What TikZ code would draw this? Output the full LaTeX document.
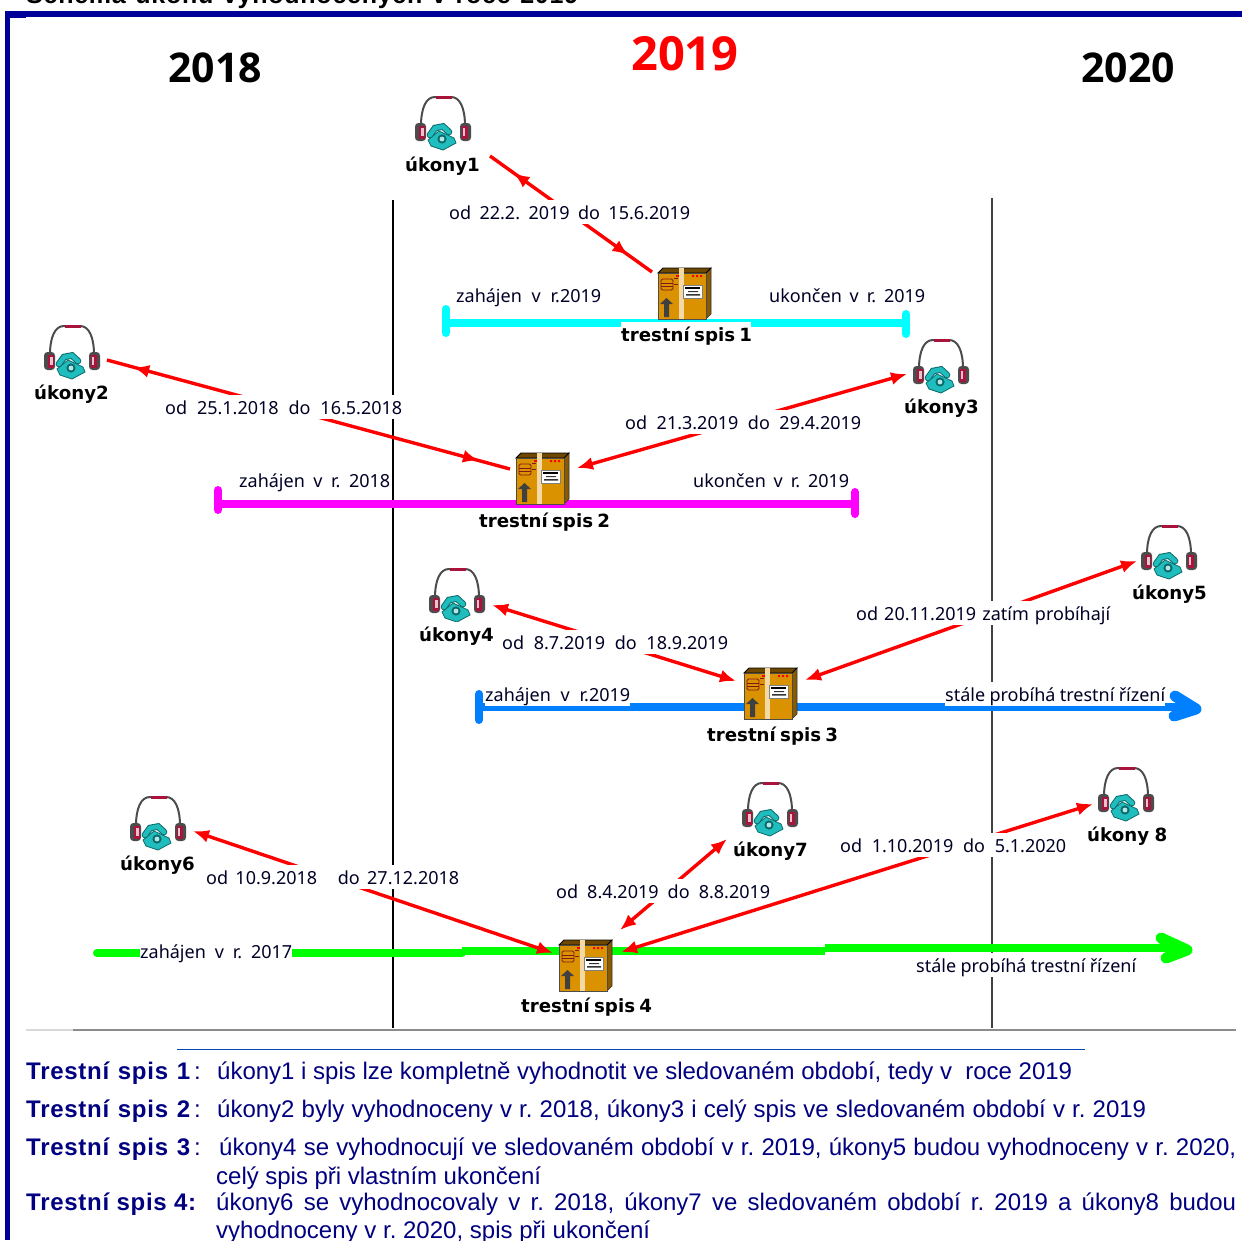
\documentclass[tikz,border=0pt]{standalone}
\usepackage{fontspec}
\usetikzlibrary{arrows.meta,decorations.markings}
\setmainfont{Noto Sans}
\newfontfamily\ikonfont{DejaVu Sans}
\newfontfamily\yearfont{Open Sans}
\newfontfamily\arialfont{Liberation Sans}
\newfontfamily\arialspaced{Liberation Sans}[LetterSpace=3]
\definecolor{navy}{HTML}{000099}
\definecolor{textnavy}{HTML}{000080}
\definecolor{teal1}{HTML}{1FBDBD}
\definecolor{teal2}{HTML}{0E6A6A}
\definecolor{crim}{HTML}{A8143C}
\definecolor{boxf}{HTML}{DB9200}
\definecolor{boxs}{HTML}{8A5A00}
\definecolor{tlblue}{HTML}{0080FF}
\definecolor{tlcyan}{HTML}{00FFFF}
\definecolor{tlmag}{HTML}{FF00FF}
\definecolor{tlgreen}{HTML}{00FF00}
\definecolor{tlred}{HTML}{FF0000}
\tikzset{
 x=1pt,y=-1pt,
 headset/.pic={
  \draw[black!70,line width=2] (-22,4) .. controls (-22,-14) and (-17,-25) .. (-8,-25) -- (8,-25) .. controls (17,-25) and (22,-14) .. (22,4);
  \draw[crim,line width=3] (-7,-25)--(9,-25);
  \fill[black!70,rounded corners=3.5] (-28,1) rectangle (-17,19);
  \fill[black!70,rounded corners=3.5] (17,1) rectangle (28,19);
  \fill[crim] (-24.5,3.5) rectangle (-18.5,16.5);
  \fill[crim] (18.5,3.5) rectangle (24.5,16.5);
  \fill[white!75!crim] (-22,6) rectangle (-19.5,14);
  \fill[white!75!crim] (19.5,6) rectangle (22,14);
  \fill[teal1,draw=teal2,line width=.8] (-15,18) -- (-4,9) -- (11,16) -- (13,21) -- (0,28) -- (-12,24) -- cycle;
  \draw[teal2,line width=6.6,line cap=round] (-13,13) -- (-8,6) -- (0,4.5) -- (6,10);
  \draw[teal1,line width=4.6,line cap=round] (-13,13) -- (-8,6) -- (0,4.5) -- (6,10);
  \fill[teal2] (-1,17) circle (4.6);
  \fill[white!65!teal1] (-1,17) circle (2.4);
 },
 boxicon/.pic={
  \fill[boxs,draw=black!80,line width=.6] (22,-23) -- (27,-28) -- (27,18) -- (22,23) -- cycle;
  \fill[boxs!80!black,draw=black,line width=.8] (-26,-23) -- (-21,-28) -- (27,-28) -- (22,-23) -- cycle;
  \fill[boxf,draw=black!70,line width=.7] (-26,-23) rectangle (22,23);
  \fill[white!65!boxf] (-5,-24) rectangle (0,23);
  \fill[white!65!boxf] (-5,-28) rectangle (0,-23);
  \draw[red!45!black!90,line width=.9,rounded corners=1.5] (-23,-17) rectangle (-11,-6);
  \draw[red!45!black!90,line width=.9] (-23,-13) -- (-11,-13) (-23,-9.5) -- (-11,-9.5);
  \draw[red!45!black!90,line width=.9] (-10,-18) -- (-6,-18) (-10,-12) -- (-6,-12);
  \fill[red] (-8,-21) rectangle (-5,-19);
  \fill[red] (8,-21) rectangle (10,-19) (12,-21) rectangle (14,-19) (16,-21) rectangle (18,-19);
  \fill[white,draw=black!50,line width=.4] (-1,-11) rectangle (18,2);
  \fill[black] (1,-9) rectangle (16,-7);
  \fill[black!80] (4,-5) rectangle (14,-4) (2,-2) rectangle (16,-.5);
  \fill[black!75] (-20,21) -- (-20,8) -- (-24,8) -- (-17.5,2) -- (-11,8) -- (-15,8) -- (-15,21) -- cycle;
 },
 iconnode/.style={minimum width=54pt,minimum height=52pt,inner sep=0pt},
 boxnode/.style={minimum width=54pt,minimum height=52pt,inner sep=0pt},
 lbl/.style={anchor=base west,inner sep=0pt,fill=white,text height=19pt,text depth=5pt,text=black!85!blue,font=\fontsize{18}{20}\selectfont},
 blbl/.style={lbl,text=black,font=\ikonfont\bfseries\fontsize{18.2}{20}\selectfont},
 year/.style={anchor=base west,inner sep=0pt,font=\yearfont\bfseries\fontsize{41}{44}\selectfont},
 note/.style={anchor=base west,inner sep=0pt,text=textnavy,font=\arialfont\fontsize{24}{26}\selectfont},
 noteh/.style={note,font=\arialspaced\bfseries\fontsize{24}{26}\selectfont},
 conn/.style={tlred,line width=3.4pt,{Latex[length=16pt,width=13pt]}-{Latex[length=16pt,width=13pt]}},
 connmid/.style n args={2}{tlred,line width=3.4pt,postaction={decorate},decoration={markings,
   mark=at position #1 with {\arrowreversed{Latex[length=16pt,width=13pt]}},
   mark=at position #2 with {\arrow{Latex[length=16pt,width=13pt]}}}},
 tl/.style={line width=8pt},
 endcap/.style={line width=8pt,line cap=round},
 grp/.style={line width=11pt,line cap=round,line join=round}
}
\newcommand\ikon[3]{\node[iconnode] (#1) at (#2,#3) {}; \pic at (#1) {headset};}
\newcommand\krab[3]{\node[boxnode] (#1) at (#2,#3) {}; \pic at (#1) {boxicon};}
\newcommand\lab[6][lbl]{\node[#1] (#2) at (#3,#4) {\makebox[#5pt][s]{#6}};}
\begin{document}
\frenchspacing
\begin{tikzpicture}
\useasboundingbox (0,0) rectangle (1242,1240);
\fill[white] (0,0) rectangle (1242,1240);
% frame
\fill[navy] (5,11) rectangle (1242,16.5);
\fill[navy] (5,11) rectangle (10,1240);
\fill[navy] (10,16) rectangle (26,18);
\node[anchor=base west,inner sep=0pt,font=\arialspaced\bfseries\fontsize{25}{26}\selectfont] (title) at (26,3) {\makebox[552pt][s]{Schéma úkonů vyhodnocených v roce 2019}};
% years
\node[year] (y18) at (168,82) {2018};
\node[year,text=tlred,font=\yearfont\bfseries\fontsize{47}{48}\selectfont] (y19) at (631,70) {2019};
\node[year] (y20) at (1081,82) {2020};
% vertical and horizontal rules
\coordinate (v1a) at (393,200); \coordinate (v1b) at (393,1028);
\coordinate (v2a) at (992,198); \coordinate (v2b) at (992,1028);
\draw[black,line width=1.6pt] (v1a) -- (v1b);
\draw[black!75,line width=1.1pt] (v2a) -- (v2b);
\draw[black!15,line width=1.2pt] (26,1030) -- (73,1030);
\draw[black!45,line width=1.2pt] (73,1030) -- (1236,1030);
\draw[blue!60!cyan!70!black,line width=1pt] (177,1049) -- (1085,1049);
% time lines
\draw[tlcyan,tl] (446,323) -- (906,323);
\draw[tlcyan,endcap] (446,309) -- (446,333);
\draw[tlcyan,endcap] (906,314) -- (906,334);
\draw[tlmag,tl] (218,503.5) -- (855,503.5);
\draw[tlmag,endcap] (218,490) -- (218,510);
\draw[tlmag,endcap] (855,492) -- (855,514);
\draw[tlblue,tl] (479,707) -- (1195,707);
\draw[tlblue,endcap] (479,694) -- (479,720);
\draw[tlblue,grp] (1175,696) -- (1196,709) -- (1174,716);
\draw[tlgreen,tl,line cap=round] (97,953) -- (462,953);
\draw[tlgreen,tl] (462,951) -- (825,951);
\draw[tlgreen,tl] (825,948) -- (1185,948);
\draw[tlgreen,grp] (1161,938) -- (1187,950) -- (1166,958);
% icons
\ikon{u1}{443}{122}
\ikon{u2}{72}{351}
\ikon{u3}{941}{365}
\ikon{u4}{457}{594}
\ikon{u5}{1169}{551}
\ikon{u6}{158}{822}
\ikon{u7}{770}{808}
\ikon{u8}{1126}{793}
\krab{b1}{684}{296}
\krab{b2}{542}{481}
\krab{b3}{770}{696}
\krab{b4}{585}{968}
% connectors
\draw[connmid={0.145}{0.855}] ([shift={(47,34)}]u1.center) -- ([shift={(-32,-24)}]b1.center);
\draw[connmid={0.065}{0.923}] ([shift={(35,9)}]u2.center) -- ([shift={(-32,-12)}]b2.center);
\draw[conn] ([shift={(-34,9)}]u3.center) -- ([shift={(35,-13)}]b2.center);
\draw[conn] ([shift={(35,11)}]u4.center) -- ([shift={(-34,-15)}]b3.center);
\draw[conn] ([shift={(-32,10)}]u5.center) -- ([shift={(35,-16)}]b3.center);
\draw[conn] ([shift={(35,9)}]u6.center) -- ([shift={(-32,-15)}]b4.center);
\draw[conn] ([shift={(-43,31)}]u7.center) -- ([shift={(35,-38)}]b4.center);
\draw[conn] ([shift={(-33,11)}]u8.center) -- ([shift={(36,-16)}]b4.center);
% labels
\lab[blbl]{t1}{405}{171}{74}{úkony1}
\lab[blbl]{t2}{34}{399}{74}{úkony2}
\lab[blbl]{t3}{904}{413}{74}{úkony3}
\lab[blbl]{t4}{419}{641}{74}{úkony4}
\lab[blbl]{t5}{1132}{599}{74}{úkony5}
\lab[blbl]{t6}{120}{870}{74}{úkony6}
\lab[blbl]{t7}{733}{856}{74}{úkony7}
\lab[blbl]{t8}{1087}{841}{80}{úkony 8}
\lab[blbl]{s1}{621}{341}{130}{trestní spis 1}
\lab[blbl]{s2}{479}{527}{129}{trestní spis 2}
\lab[blbl]{s3}{707}{741}{128}{trestní spis 3}
\lab[blbl]{s4}{521}{1012}{129}{trestní spis 4}
\lab{d1}{449}{219}{241}{od 22.2. 2019 do 15.6.2019}
\lab{d2}{165}{414}{237}{od 25.1.2018 do 16.5.2018}
\lab{d3}{625}{429}{236}{od 21.3.2019 do 29.4.2019}
\lab{d4}{502}{649}{226}{od 8.7.2019 do 18.9.2019}
\lab{d5}{856}{620}{254}{od 20.11.2019 zatím probíhají}
\lab{d6}{206}{884}{253}{od 10.9.2018 \hspace{6pt} do 27.12.2018}
\lab{d7}{556}{898}{214}{od 8.4.2019 do 8.8.2019}
\lab{d8}{840}{852}{226}{od 1.10.2019 do 5.1.2020}
\lab{z1}{456}{302}{145}{zahájen v r.2019}
\lab{e1}{769}{302}{156}{ukončen v r. 2019}
\lab{z2}{239}{487}{151}{zahájen v r. 2018}
\lab{e2}{693}{487}{156}{ukončen v r. 2019}
\lab{z3}{485}{701}{145}{zahájen v r.2019}
\lab{p3}{945}{701}{220}{stále probíhá trestní řízení}
\lab{z4}{140}{958}{152}{zahájen v r. 2017}
\lab{p4}{916}{972}{220}{stále probíhá trestní řízení}
% explanation
\node[noteh] (n1) at (26,1079) {\makebox[164pt][s]{Trestní spis 1}\arialfont\mdseries\,:};
\node[note] (m1) at (217,1079) {\makebox[855pt][s]{úkony1 i spis lze kompletně vyhodnotit ve sledovaném období, tedy v \ roce 2019}};
\node[noteh] (n2) at (26,1117) {\makebox[164pt][s]{Trestní spis 2}\arialfont\mdseries\,:};
\node[note] (m2) at (217,1117) {\makebox[929pt][s]{úkony2 byly vyhodnoceny v r. 2018, úkony3 i celý spis ve sledovaném období v r. 2019}};
\node[noteh] (n3) at (26,1155) {\makebox[164pt][s]{Trestní spis 3}\arialfont\mdseries\,:};
\node[note] (m3) at (219,1155) {\makebox[1017pt][s]{úkony4 se vyhodnocují ve sledovaném období v r. 2019, úkony5 budou vyhodnoceny v r. 2020,}};
\node[note] (m3b) at (216,1184) {\makebox[325pt][s]{celý spis při vlastním ukončení}};
\node[noteh] (n4) at (26,1210) {\makebox[170pt][s]{Trestní spis 4:}};
\node[note] (m4) at (216,1210) {\makebox[1020pt][s]{úkony6 se vyhodnocovaly v r. 2018, úkony7 ve sledovaném období r. 2019 a úkony8 budou}};
\node[note] (m4b) at (216,1238) {\makebox[434pt][s]{vyhodnoceny v r. 2020, spis při ukončení}};
\end{tikzpicture}
\end{document}
